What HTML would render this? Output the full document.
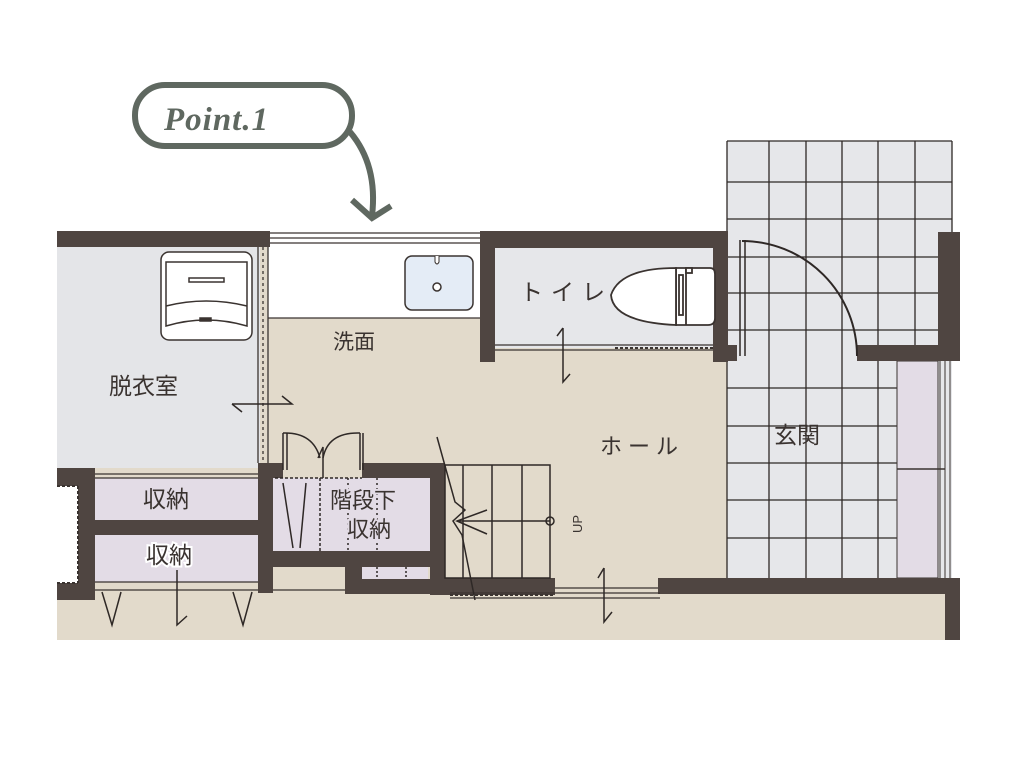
<!DOCTYPE html>
<html><head><meta charset="utf-8"><style>
html,body{margin:0;padding:0;background:#fff;}
svg{display:block;}
text{font-family:"Liberation Sans","Noto Sans CJK JP",sans-serif;fill:#3a3330;}
</style></head><body>
<svg width="1024" height="768" viewBox="0 0 1024 768" xmlns="http://www.w3.org/2000/svg">
<rect width="1024" height="768" fill="#fff"/>
<!-- floors -->
<rect x="57" y="247" width="888" height="393" fill="#e2dacb"/>
<rect x="57" y="247" width="203" height="221" fill="#e4e5e8"/>
<rect x="268" y="247" width="212" height="71" fill="#fff"/>
<rect x="495" y="248" width="218" height="100" fill="#e6e7ea"/>
<!-- genkan tiles -->
<rect x="727" y="141" width="225" height="437" fill="#e6e7ea"/>
<g stroke="#2e2826" stroke-width="1.3">
<line x1="727" y1="141" x2="952" y2="141"/>
<line x1="727" y1="141" x2="727" y2="578"/>
<line x1="952" y1="141" x2="952" y2="232"/>
<line x1="769" y1="141" x2="769" y2="578"/>
<line x1="806" y1="141" x2="806" y2="578"/>
<line x1="842" y1="141" x2="842" y2="578"/>
<line x1="878" y1="141" x2="878" y2="578"/>
<line x1="915" y1="141" x2="915" y2="345"/>
<line x1="727" y1="182" x2="952" y2="182"/>
<line x1="727" y1="219" x2="952" y2="219"/>
<line x1="727" y1="257" x2="945" y2="257"/>
<line x1="727" y1="293" x2="945" y2="293"/>
<line x1="727" y1="330" x2="945" y2="330"/>
<line x1="727" y1="388" x2="897" y2="388"/>
<line x1="727" y1="426" x2="897" y2="426"/>
<line x1="727" y1="463" x2="897" y2="463"/>
<line x1="727" y1="500" x2="897" y2="500"/>
<line x1="727" y1="538" x2="897" y2="538"/>
</g>
<!-- purple storages -->
<rect x="897" y="361" width="41" height="217" fill="#e3dce6" stroke="#3a3330" stroke-width="1"/>
<line x1="897" y1="469" x2="945" y2="469" stroke="#3a3330" stroke-width="1.5"/>
<g stroke="#3a3330" stroke-width="1"><line x1="940" y1="361" x2="940" y2="578"/><line x1="945" y1="361" x2="945" y2="578"/><line x1="950" y1="361" x2="950" y2="578"/></g>
<rect x="95" y="478" width="163" height="42" fill="#e3dce6"/>
<rect x="95" y="535" width="163" height="47" fill="#e3dce6"/>
<rect x="273" y="478" width="157" height="73" fill="#e3dce6"/>
<rect x="362" y="567" width="66" height="12" fill="#e3dce6"/>
<!-- walls -->
<g fill="#4f4541">
<rect x="57" y="231" width="213" height="16"/>
<rect x="480" y="231" width="248" height="17"/>
<rect x="480" y="231" width="15" height="131"/>
<rect x="713" y="231" width="15" height="131"/>
<rect x="713" y="345" width="24" height="16"/>
<rect x="938" y="232" width="22" height="128"/>
<rect x="857" y="345" width="103" height="16"/>
<rect x="658" y="578" width="302" height="16"/>
<rect x="945" y="578" width="15" height="62"/>
<rect x="57" y="468" width="38" height="132"/>
<rect x="95" y="520" width="163" height="15"/>
<rect x="258" y="463" width="15" height="130"/>
<rect x="258" y="463" width="25" height="15"/>
<rect x="362" y="463" width="83" height="15"/>
<rect x="430" y="463" width="15" height="132"/>
<rect x="273" y="551" width="157" height="16"/>
<rect x="345" y="551" width="17" height="42"/>
<rect x="345" y="579" width="100" height="15"/>
<rect x="430" y="578" width="125" height="17"/>
</g>
<rect x="57" y="486" width="21" height="97" fill="#fff"/>
<line x1="78" y1="486" x2="78" y2="583" stroke="#3a3330" stroke-width="2" stroke-dasharray="3,2"/>
<line x1="57" y1="486" x2="78" y2="486" stroke="#3a3330" stroke-width="2" stroke-dasharray="3,2"/>
<line x1="57" y1="583" x2="78" y2="583" stroke="#3a3330" stroke-width="2" stroke-dasharray="3,2"/>
<!-- windows / thin lines -->
<g stroke="#3a3330" stroke-width="1.3" fill="none">
<line x1="270" y1="233" x2="480" y2="233"/><line x1="270" y1="238" x2="480" y2="238"/><line x1="270" y1="243" x2="480" y2="243"/>
<line x1="258" y1="247" x2="258" y2="463"/><line x1="268" y1="247" x2="268" y2="463"/>
<line x1="263" y1="247" x2="263" y2="463" stroke-dasharray="3,3"/>
<line x1="268" y1="318" x2="480" y2="318"/>
<line x1="495" y1="345" x2="713" y2="345"/><line x1="495" y1="350" x2="713" y2="350"/>
<line x1="615" y1="348" x2="713" y2="348" stroke-dasharray="3,2" stroke-width="2"/>
<line x1="95" y1="478" x2="258" y2="478"/><line x1="95" y1="474" x2="258" y2="474"/>
<line x1="95" y1="582" x2="258" y2="582"/><line x1="95" y1="590" x2="258" y2="590"/>
<line x1="273" y1="590" x2="345" y2="590"/>
<line x1="450" y1="593" x2="660" y2="593"/><line x1="450" y1="598" x2="660" y2="598"/>
<line x1="450" y1="595" x2="555" y2="595" stroke-dasharray="3,2" stroke-width="2"/>
<line x1="555" y1="588" x2="658" y2="588"/>
</g>
<!-- washing machine -->
<g stroke="#3a3330" stroke-width="1.5" fill="#fff">
<rect x="161" y="252" width="91" height="88" rx="8"/>
<path d="M166 262 H247 V326 Q206 314 166 326 Z"/>
<path d="M166 306 Q206 296 247 306"/>
<rect x="189" y="278" width="35" height="4"/>
<rect x="200" y="318" width="11" height="3" fill="#3a3330"/>
</g>
<!-- sink -->
<rect x="405" y="256" width="68" height="54" rx="7" fill="#e4ecf6" stroke="#3a3330" stroke-width="1.5"/>
<circle cx="437" cy="287" r="4" fill="#fff" stroke="#3a3330" stroke-width="1.5"/>
<path d="M435 256 V262 Q437 266 439 262 V256" fill="#fff" stroke="#3a3330" stroke-width="1"/>
<!-- toilet -->
<g stroke="#3a3330" stroke-width="1.8" fill="#fff">
<path d="M676 268 H710 Q715 268 715 274 V318 Q715 325 708 325 H676 Z"/>
<path d="M676 268 Q620 268 611 295 Q613 322 676 325 Z"/>
<line x1="686" y1="268" x2="686" y2="325"/>
<rect x="679" y="275" width="4" height="40"/>
<rect x="686" y="268" width="6" height="5"/>
</g>
<!-- genkan door -->
<g stroke="#2e2826" stroke-width="1.5" fill="none">
<line x1="740" y1="240" x2="740" y2="356"/><line x1="745" y1="240" x2="745" y2="356"/>
<path d="M742 241 A115 115 0 0 1 857 356" stroke-width="2"/>
</g>
<!-- stairs -->
<g stroke="#2e2826" stroke-width="1.5" fill="none">
<rect x="445" y="465" width="105" height="113"/>
<line x1="463" y1="465" x2="463" y2="578"/><line x1="492" y1="465" x2="492" y2="578"/><line x1="522" y1="465" x2="522" y2="578"/>
<line x1="457" y1="521" x2="550" y2="521"/>
<circle cx="550" cy="521" r="4"/>
<path d="M437 437 L455 502 L465 510 L453 521 L462 535 L475 600"/>
<path d="M487 510 L457 521 L487 534"/>
<path d="M232 404 H292 L282 396"/><path d="M232 404 L242 412"/>
<path d="M563 328 V382 L570 374"/><path d="M563 328 L557 336"/>
<path d="M604 568 V622 L612 612"/><path d="M604 568 L598 578"/>
<path d="M177 570 V625 L187 616"/>
<path d="M102 592 L112 625 L121 592"/><path d="M233 592 L243 625 L252 592"/>
<line x1="283" y1="433" x2="283" y2="470"/><line x1="287" y1="433" x2="287" y2="470"/>
<path d="M283 433 Q313 432 320 458"/><path d="M360 433 Q328 432 323 458"/>
<path d="M318 458 L323 447 L323 478"/>
<line x1="360" y1="433" x2="360" y2="470"/><line x1="363" y1="433" x2="363" y2="470"/>
<path d="M275 478 H362" stroke-dasharray="3,2"/>
<line x1="320" y1="478" x2="320" y2="551" stroke-dasharray="3,2"/>
<line x1="348" y1="478" x2="348" y2="551" stroke-dasharray="2,3"/>
<line x1="377" y1="478" x2="377" y2="551" stroke-dasharray="2,3"/>
<path d="M283 483 L293 548"/><path d="M300 548 L306 483"/>
<line x1="377" y1="567" x2="377" y2="579" stroke-dasharray="2,2"/>
<line x1="406" y1="567" x2="406" y2="579" stroke-dasharray="2,2"/>
</g>
<!-- labels -->
<text x="109" y="394" font-size="23">脱衣室</text>
<text x="333" y="349" font-size="21">洗面</text>
<text x="520" y="300" font-size="23" letter-spacing="8">トイレ</text>
<text x="600" y="454" font-size="22" letter-spacing="6">ホール</text>
<text x="774" y="443" font-size="23">玄関</text>
<text x="143" y="507" font-size="23">収納</text>
<text x="146" y="563" font-size="23" stroke="#fff" stroke-width="4" paint-order="stroke">収納</text>
<text x="330" y="508" font-size="22" stroke="#e3dce6" stroke-width="4" paint-order="stroke">階段下</text>
<text x="347" y="537" font-size="22" stroke="#e3dce6" stroke-width="4" paint-order="stroke">収納</text>
<text x="0" y="0" font-size="13" transform="translate(582,533) rotate(-90)">UP</text>
<!-- Point.1 callout -->
<rect x="135" y="85" width="217" height="61" rx="30" fill="#fff" stroke="#5f6860" stroke-width="6"/>
<text x="164" y="130" font-size="33" font-style="italic" font-weight="bold" style="fill:#5f6860;font-family:'Liberation Serif',serif" letter-spacing="1">Point.1</text>
<path d="M350 132 Q378 165 372 216" fill="none" stroke="#5f6860" stroke-width="6"/>
<path d="M352 200 L372 218 L391 206" fill="none" stroke="#5f6860" stroke-width="6"/>
</svg>
</body></html>
